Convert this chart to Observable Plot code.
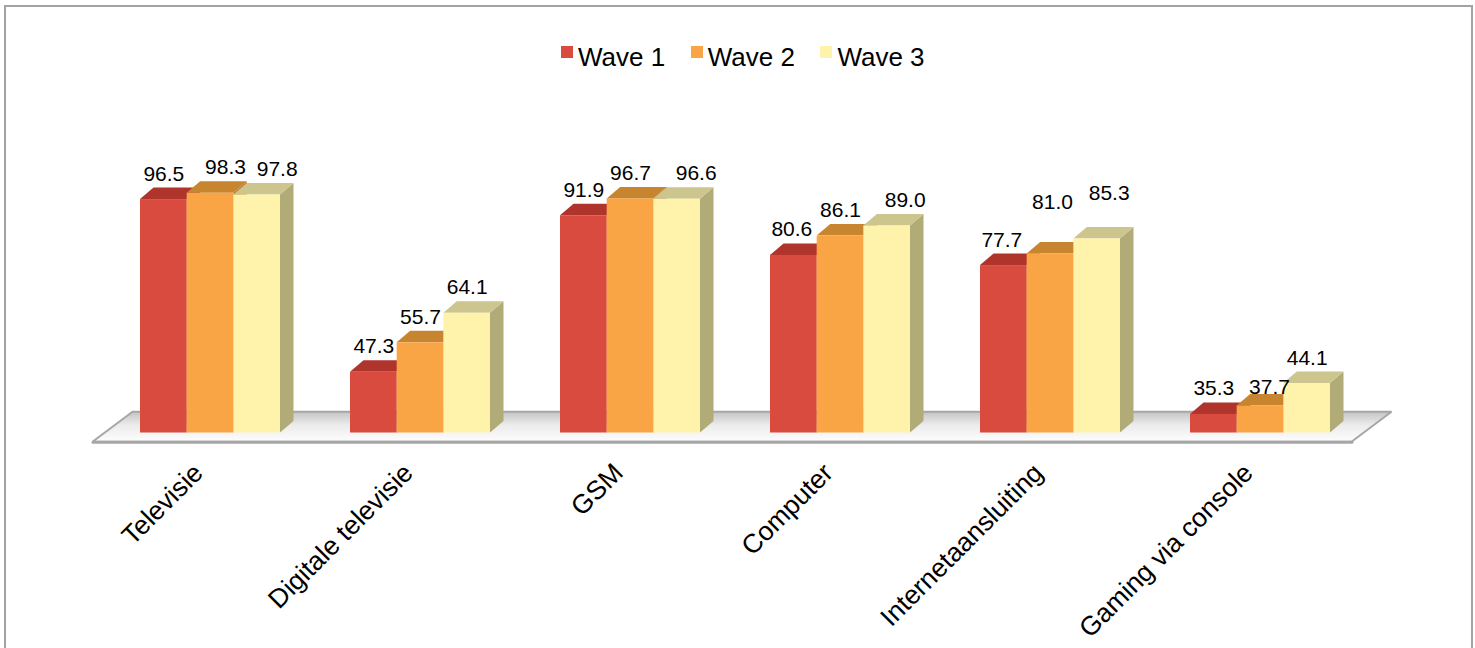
<!DOCTYPE html>
<html>
<head>
<meta charset="utf-8">
<script src="https://cdn.jsdelivr.net/npm/d3@7"></script>
<script src="https://cdn.jsdelivr.net/npm/@observablehq/plot@0.6"></script>
<style>
  html, body { margin: 0; padding: 0; background: #fff; overflow: hidden; }
  body { width: 1475px; height: 648px; position: relative;
         font-family: "Liberation Sans", Arial, Helvetica, sans-serif; color: #000; }
  #frame { position: absolute; left: 4px; top: 5px; width: 1469px; height: 720px;
           border: 2px solid #a3a3a3; box-sizing: border-box; pointer-events: none; }
  #legend { position: absolute; left: 561px; top: 44px; display: flex; font-size: 26px; line-height: 26px; }
  .item { display: flex; align-items: flex-start; margin-right: 25.5px; }
  .sw { width: 12px; height: 12px; margin-top: 2px; margin-right: 5px; }
  #chart { position: absolute; left: 0; top: 90px; }
</style>
</head>
<body>
<div id="frame"></div>
<div id="legend"></div>
<div id="chart"></div>
<script>
// Ownership of media devices per survey wave (%)
const categories = ["Televisie", "Digitale televisie", "GSM", "Computer", "Internetaansluiting", "Gaming via console"];
const waves = ["Wave 1", "Wave 2", "Wave 3"];
const wave1 = [96.5, 47.3, 91.9, 80.6, 77.7, 35.3];
const wave2 = [98.3, 55.7, 96.7, 86.1, 81.0, 37.7];
const wave3 = [97.8, 64.1, 96.6, 89.0, 85.3, 44.1];
const series = [wave1, wave2, wave3];

// Face colours for each wave: front, top and right side of the 3D bars
const palette = {
  "Wave 1": {front: "#d94a3f", top: "#af342c", side: "#a3322b"},
  "Wave 2": {front: "#f9a546", top: "#c8852f", side: "#bd7d2f"},
  "Wave 3": {front: "#fff3ab", top: "#ccc58e", side: "#b1ab78"}
};

// Layout
const W = 1475, H = 558;
const marginTop = 96.8, marginBottom = 215.5, marginLeft = 0, marginRight = 5;
const yMin = 30, yMax = 100;
const xDomain = [-1, categories.length];
const pxPerX = (W - marginLeft - marginRight) / (xDomain[1] - xDomain[0]);
const pxPerY = (H - marginTop - marginBottom) / (yMax - yMin);
const depthX = 13.5 / pxPerX, depthY = 11.5 / pxPerY;   // 3D extrusion
const bw = 2 / 9;                                         // bar width, in category units

// Small label shifts (px) so that neighbouring value labels stay clear of each other
const labelShift = [
  [[0, 0], [15, 0], [20, 0]],
  [[0, 0], [0, 0], [0, 0]],
  [[0, 0], [0, 0], [19, 0]],
  [[-2, 0], [0, 0], [18, 0]],
  [[-2, 0], [2, -26], [12, -20]],
  [[0, 0], [9, 7], [0, 0]]
];

const bars = [];
categories.forEach((c, g) => waves.forEach((w, i) => {
  const x1 = g - 1.5 * bw + i * bw;
  bars.push({id: bars.length, category: c, wave: w, g, i, value: series[i][g], x1, x2: x1 + bw});
}));

const sidePts = [], topPts = [];
for (const b of bars) {
  const {id, wave, x1, x2, value: v} = b;
  sidePts.push(
    {id, wave, x: x2, y1: yMin, y2: v},
    {id, wave, x: x2 + depthX, y1: yMin + depthY, y2: v + depthY}
  );
  topPts.push(
    {id, wave, x: x1, y1: v, y2: v},
    {id, wave, x: x1 + depthX, y1: v, y2: v + depthY},
    {id, wave, x: x2, y1: v, y2: v + depthY},
    {id, wave, x: x2 + depthX, y1: v + depthY, y2: v + depthY}
  );
}

// Floor slab under the bars
const firstX = -1.5 * bw, lastX = categories.length - 1 + 1.5 * bw;
const floorFront = yMin - 9.2 / pxPerY, floorBack = yMin + 20.8 / pxPerY;
const slant = 40 / pxPerX;
const fl = firstX - 47.5 / pxPerX, fr = lastX + 21.5 / pxPerX;
const floorPts = [
  {x: fl, y1: floorFront, y2: floorFront},
  {x: fl + slant, y1: floorFront, y2: floorBack},
  {x: fr, y1: floorFront, y2: floorBack},
  {x: fr + slant, y1: floorBack, y2: floorBack}
];
const floorEdge = [{x: fl, y: floorFront}, {x: fr, y: floorFront}];

const labels = bars.map(b => {
  const [sx, sy] = labelShift[b.g][b.i];
  return {text: b.value.toFixed(1), x: (b.x1 + b.x2) / 2 + sx / pxPerX, y: b.value - sy / pxPerY};
});

const chart = Plot.plot({
  width: W, height: H,
  marginTop, marginBottom, marginLeft, marginRight,
  x: {type: "linear", domain: xDomain, axis: null},
  y: {domain: [yMin, yMax], axis: null},
  color: {type: "identity"},
  style: {fontFamily: "'Liberation Sans', Arial, Helvetica, sans-serif", background: "transparent", color: "#000"},
  marks: [
    Plot.areaY(floorPts, {x: "x", y1: "y1", y2: "y2", fill: "url(#floorShade)", stroke: "#a6a6a6", strokeWidth: 2, strokeLinejoin: "miter"}),
    Plot.line(floorEdge, {x: "x", y: "y", stroke: "#a6a6a6", strokeWidth: 3}),
    Plot.areaY(sidePts, {x: "x", y1: "y1", y2: "y2", z: "id", fill: d => palette[d.wave].side}),
    Plot.areaY(topPts, {x: "x", y1: "y1", y2: "y2", z: "id", fill: d => palette[d.wave].top}),
    Plot.rectY(bars, {x1: "x1", x2: "x2", y1: yMin, y2: "value", fill: d => palette[d.wave].front}),
    Plot.text(labels, {x: "x", y: "y", text: "text", dy: -19, lineAnchor: "bottom", fontSize: 21, fill: "#000"}),
    Plot.text(categories, {x: (d, i) => i, y: yMin, text: d => d, rotate: -45, textAnchor: "end",
      lineAnchor: "bottom", dx: -6, dy: 41.5, fontSize: 26.5, fill: "#000"})
  ]
});

d3.select(chart).insert("defs", ":first-child").html(
  `<linearGradient id="floorShade" x1="0" y1="0" x2="0" y2="1">
     <stop offset="0%" stop-color="#c4c4c4"/>
     <stop offset="45%" stop-color="#ececec"/>
     <stop offset="100%" stop-color="#fdfdfd"/>
   </linearGradient>`
);
document.getElementById("chart").appendChild(chart);

// Legend
const legend = d3.select("#legend");
waves.forEach(w => {
  const item = legend.append("div").attr("class", "item");
  item.append("div").attr("class", "sw").style("background", palette[w].front);
  item.append("span").text(w);
});
</script>
</body>
</html>
